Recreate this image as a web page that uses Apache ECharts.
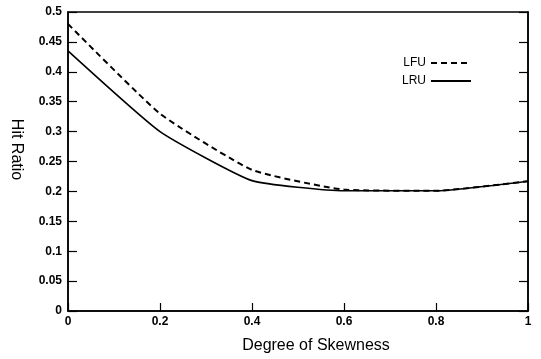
<!DOCTYPE html>
<html>
<head>
<meta charset="utf-8">
<script src="https://cdn.jsdelivr.net/npm/echarts@6/dist/echarts.min.js"></script>
<style>html,body{margin:0;padding:0;background:#fff}#c{width:541px;height:359px}</style>
</head>
<body>
<div id="c"></div>
<script>
const skewness = [0, 0.2, 0.4, 0.6, 0.8, 1];
const lfu = [0.48, 0.33, 0.236, 0.203, 0.201, 0.217];
const lru = [0.435, 0.30, 0.218, 0.201, 0.201, 0.217];
const seriesNames = ['LFU', 'LRU'];
const xTitle = 'Degree of Skewness';
const yTitle = 'Hit Ratio';

const chart = echarts.init(document.getElementById('c'), null, {renderer: 'canvas'});
const font = 'Liberation Sans, Arial, sans-serif';
const axisLine = {show: true, lineStyle: {color: '#000', width: 1.5}};
chart.setOption({
  animation: false,
  backgroundColor: '#fff',
  grid: {left: 66, right: 13, top: 12, bottom: 41, show: true, borderColor: '#000', borderWidth: 1.5, backgroundColor: 'transparent'},
  legend: {
    orient: 'vertical', right: 64, top: 52, align: 'right', itemGap: 6,
    itemWidth: 40, itemHeight: 12,
    itemStyle: {color: 'rgba(0,0,0,0)', borderWidth: 0, opacity: 0},
    textStyle: {fontFamily: font, fontSize: 12, color: '#000'},
    data: seriesNames
  },
  xAxis: {
    type: 'value', min: 0, max: 1, interval: 0.2,
    name: xTitle, nameLocation: 'middle', nameGap: 27,
    nameTextStyle: {fontFamily: font, fontSize: 16, color: '#000', padding: [0, 0, 0, 36]},
    axisLine: axisLine, splitLine: {show: false},
    axisTick: {inside: true, length: 8, lineStyle: {color: '#000', width: 1.2}},
    axisLabel: {fontFamily: font, fontSize: 12, fontWeight: 'bold', color: '#000', margin: 5,
      formatter: v => String(+v.toFixed(2))}
  },
  yAxis: [{
    type: 'value', min: 0, max: 0.5, interval: 0.05, position: 'left',
    name: yTitle, nameLocation: 'middle', nameGap: 44, nameRotate: -90,
    nameTextStyle: {fontFamily: font, fontSize: 16, color: '#000', padding: [0, 24, 0, 0]},
    axisLine: axisLine, splitLine: {show: false},
    axisTick: {inside: true, length: 9, lineStyle: {color: '#000', width: 1.2}},
    axisLabel: {fontFamily: font, fontSize: 12, fontWeight: 'bold', color: '#000', margin: 6,
      formatter: v => String(+v.toFixed(2))}
  }, {
    type: 'value', min: 0, max: 0.5, interval: 0.05, position: 'right',
    axisLine: axisLine, splitLine: {show: false},
    axisTick: {inside: true, length: 9, lineStyle: {color: '#000', width: 1.2}},
    axisLabel: {show: false}
  }],
  series: [{
    name: seriesNames[0], type: 'line', smooth: 0.15, symbol: 'none',
    data: skewness.map((x, i) => [x, lfu[i]]),
    lineStyle: {color: '#000', width: 2, type: [6, 4]},
    itemStyle: {color: '#000'}
  }, {
    name: seriesNames[1], type: 'line', smooth: 0.15, symbol: 'none',
    data: skewness.map((x, i) => [x, lru[i]]),
    lineStyle: {color: '#000', width: 1.6, type: 'solid'},
    itemStyle: {color: '#000'}
  }]
});
</script>
</body>
</html>
